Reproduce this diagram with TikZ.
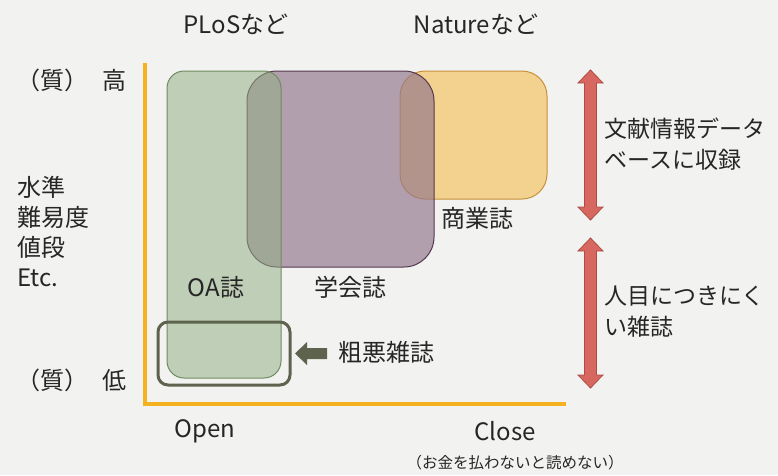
\documentclass[tikz,border=0pt]{standalone}
\usepackage{fontspec}
\setmainfont{Noto Sans CJK JP}
\definecolor{bgcol}{RGB}{242,242,240}
\definecolor{axiscol}{RGB}{244,177,32}
\definecolor{oafill}{RGB}{147,175,133}
\definecolor{oaline}{RGB}{111,140,96}
\definecolor{socfill}{RGB}{148,119,141}
\definecolor{socline}{RGB}{85,55,80}
\definecolor{comfill}{RGB}{243,209,143}
\definecolor{comline}{RGB}{200,145,60}
\definecolor{badcol}{RGB}{94,99,78}
\definecolor{arrfill}{RGB}{214,104,96}
\definecolor{arrline}{RGB}{175,75,70}
\definecolor{txtcol}{RGB}{38,38,38}
\tikzset{
  lbl/.style={inner sep=0pt, text=txtcol, font=\fontsize{24}{30}\selectfont},
  sidelbl/.style={lbl, anchor=west, align=left, font=\fontsize{23}{31}\selectfont},
  axisline/.style={draw=axiscol, line width=4pt},
  bothway/.style={fill=arrfill, draw=arrline, line width=0.8pt},
}
\begin{document}
\begin{tikzpicture}[x=1pt, y=-1pt]
\fill[bgcol] (0,0) rectangle (778,475);
\useasboundingbox (0,0) rectangle (778,475);
% axes
\draw[axisline] (145,63) -- (145,404) -- (566,404);
% journal groups
\draw[fill=comfill, draw=comline, line width=1pt, rounded corners=25pt] (400,71) rectangle (547,199);
\draw[fill=socfill, fill opacity=0.67, draw=socline, line width=1pt, rounded corners=30pt] (247,71) rectangle (434,267);
\draw[fill=oafill, fill opacity=0.53, draw=oaline, line width=1pt, rounded corners=17pt] (167,71) rectangle (281,378);
\draw[draw=badcol, line width=3pt, rounded corners=10pt] (158,322) rectangle (290,385);
% pointer to the poor journals
\fill[badcol] (295,353.5) -- (307,342) -- (307,348) -- (327,348) -- (327,359) -- (307,359) -- (307,365) -- cycle;
% double arrows on the right
\foreach \ytop/\ybot in {70/220, 238/388}
  \draw[bothway] (590.5,\ytop) -- (603,\ytop+13) -- (596.5,\ytop+13) -- (596.5,\ybot-13) -- (603,\ybot-13)
    -- (590.5,\ybot) -- (578,\ybot-13) -- (584.5,\ybot-13) -- (584.5,\ytop+13) -- (578,\ytop+13) -- cycle;
% labels
\node[lbl] (plos) at (236,24) {PLoSなど};
\node[lbl] (nature) at (476,24) {Natureなど};
\node[lbl, anchor=west] (qhigh) at (16,80) {（質）};
\node[lbl, anchor=west] (high) at (102,80) {高};
\node[lbl, anchor=west] (qlow) at (16,380) {（質）};
\node[lbl, anchor=west] (low) at (102,380) {低};
\node[lbl, anchor=west, align=left] (measures) at (17,232) {水準\\難易度\\値段\\Etc.};
\node[lbl] (oa) at (216,287) {OA誌};
\node[lbl] (society) at (350,287) {学会誌};
\node[lbl] (commercial) at (477,218) {商業誌};
\node[lbl, anchor=west] (poor) at (338,352) {粗悪雑誌};
\node[sidelbl] (indexed) at (604,144) {文献情報データ\\ベースに収録};
\node[sidelbl] (unseen) at (604,312) {人目につきにく\\い雑誌};
\node[lbl] (open) at (205,431) {Open};
\node[lbl] (close) at (505,431) {Close};
\node[lbl, font=\fontsize{15.5}{18}\selectfont] (paywall) at (515,463) {（お金を払わないと読めない）};
\end{tikzpicture}
\end{document}
